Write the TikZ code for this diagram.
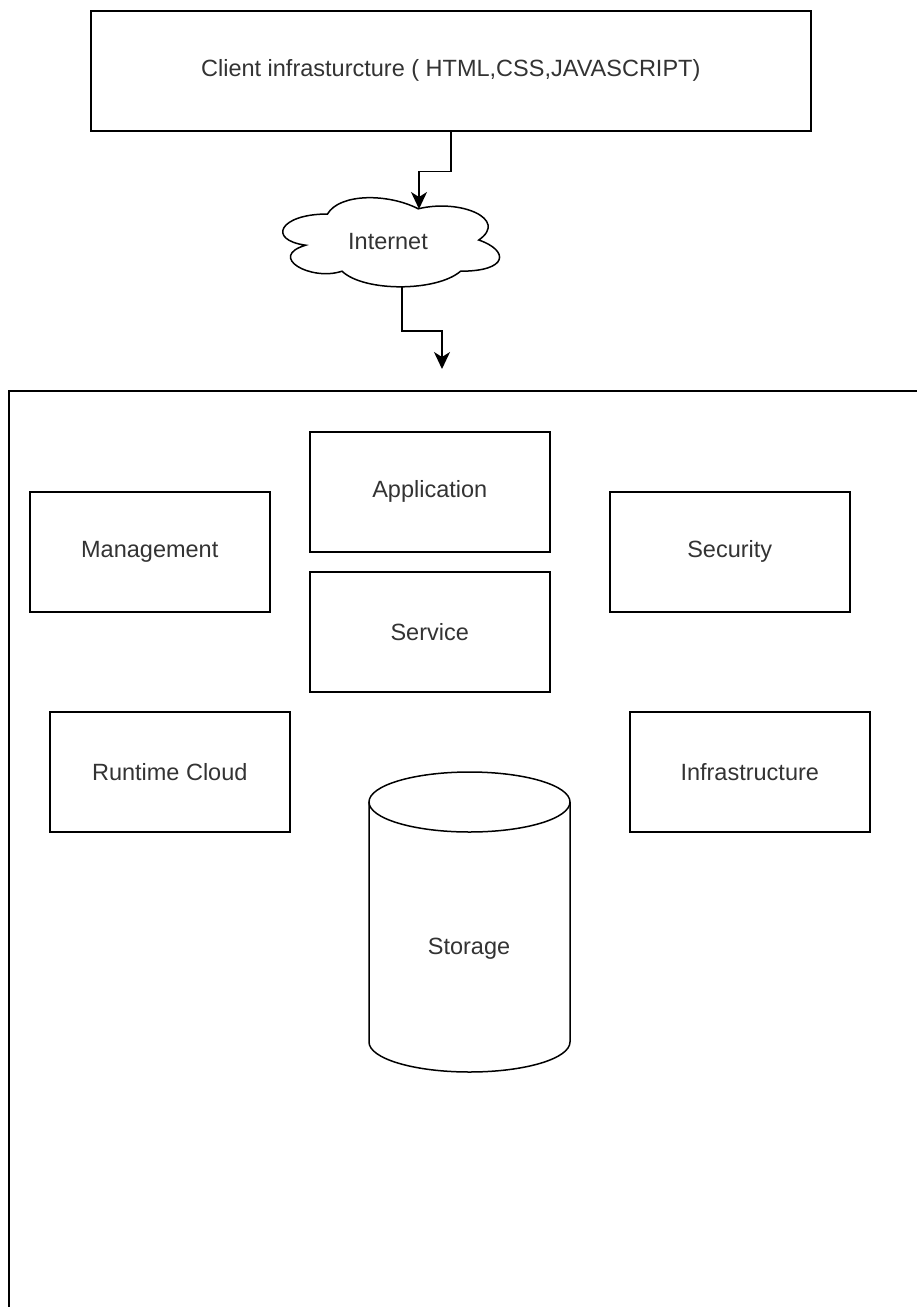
\documentclass[tikz,border=0pt]{standalone}
\usepackage{fontspec}
\setmainfont{Liberation Sans}
\usetikzlibrary{arrows.meta}
\begin{document}
\begin{tikzpicture}[x=1pt,y=-1pt,
  every node/.style={font=\fontsize{23.5}{28}\selectfont, text=black!80},
  boxnode/.style={draw=black, line width=1.5pt, minimum width=240pt, minimum height=120pt, inner sep=0pt, anchor=north west},
  conn/.style={line width=1.5pt, -{Stealth[length=17pt,width=16pt,inset=5pt]}},
  shapeline/.style={line width=1.5pt, draw=black}]
\clip (0,0) rectangle (917,1307);
\fill[white] (0,0) rectangle (917,1307);
% top box
\node[boxnode, minimum width=720pt] (client) at (90,10) {Client infrasturcture ( HTML,CSS,JAVASCRIPT)};
% cloud
\def\cx{267}\def\cy{188}\def\cw{242}\def\ch{104}
\draw[shapeline]
 (\cx+0.25*\cw,\cy+0.25*\ch)
 .. controls (\cx+0.05*\cw,\cy+0.25*\ch) and (\cx+0*\cw,\cy+0.5*\ch) .. (\cx+0.16*\cw,\cy+0.55*\ch)
 .. controls (\cx+0*\cw,\cy+0.66*\ch) and (\cx+0.18*\cw,\cy+0.9*\ch) .. (\cx+0.31*\cw,\cy+0.8*\ch)
 .. controls (\cx+0.4*\cw,\cy+1*\ch) and (\cx+0.7*\cw,\cy+1*\ch) .. (\cx+0.8*\cw,\cy+0.8*\ch)
 .. controls (\cx+1*\cw,\cy+0.8*\ch) and (\cx+1*\cw,\cy+0.6*\ch) .. (\cx+0.875*\cw,\cy+0.5*\ch)
 .. controls (\cx+1*\cw,\cy+0.3*\ch) and (\cx+0.8*\cw,\cy+0.1*\ch) .. (\cx+0.625*\cw,\cy+0.2*\ch)
 .. controls (\cx+0.5*\cw,\cy+0.05*\ch) and (\cx+0.3*\cw,\cy+0.05*\ch) .. cycle;
\node (internet) at (388,242) {Internet};
\coordinate (cloudtop) at (419,209);
\coordinate (cloudbot) at (402,286);
\coordinate (arrend) at (442,369);
% connectors
\draw[conn] (client.south) -- ++(0,40) -| (cloudtop);
\draw[conn] (cloudbot) -- ++(0,45) -| (arrend);
% big frame
\draw[shapeline] (9,1330) -- (9,391) -- (930,391);
% boxes
\node[boxnode] (app) at (309,431) {Application};
\node[boxnode] (service) at (309,571) {Service};
\node[boxnode] (mgmt) at (29,491) {Management};
\node[boxnode] (security) at (609,491) {Security};
\node[boxnode] (runtime) at (49,711) {Runtime Cloud};
\node[boxnode] (infra) at (629,711) {Infrastructure};
% storage cylinder
\draw[shapeline] (369,802) -- (369,1042) arc[start angle=180,end angle=360,x radius=100.5,y radius=-30] -- (570,802);
\draw[shapeline] (469.5,802) ellipse[x radius=100.5, y radius=30];
\node (storage) at (469,949) {Storage};
\end{tikzpicture}
\end{document}
